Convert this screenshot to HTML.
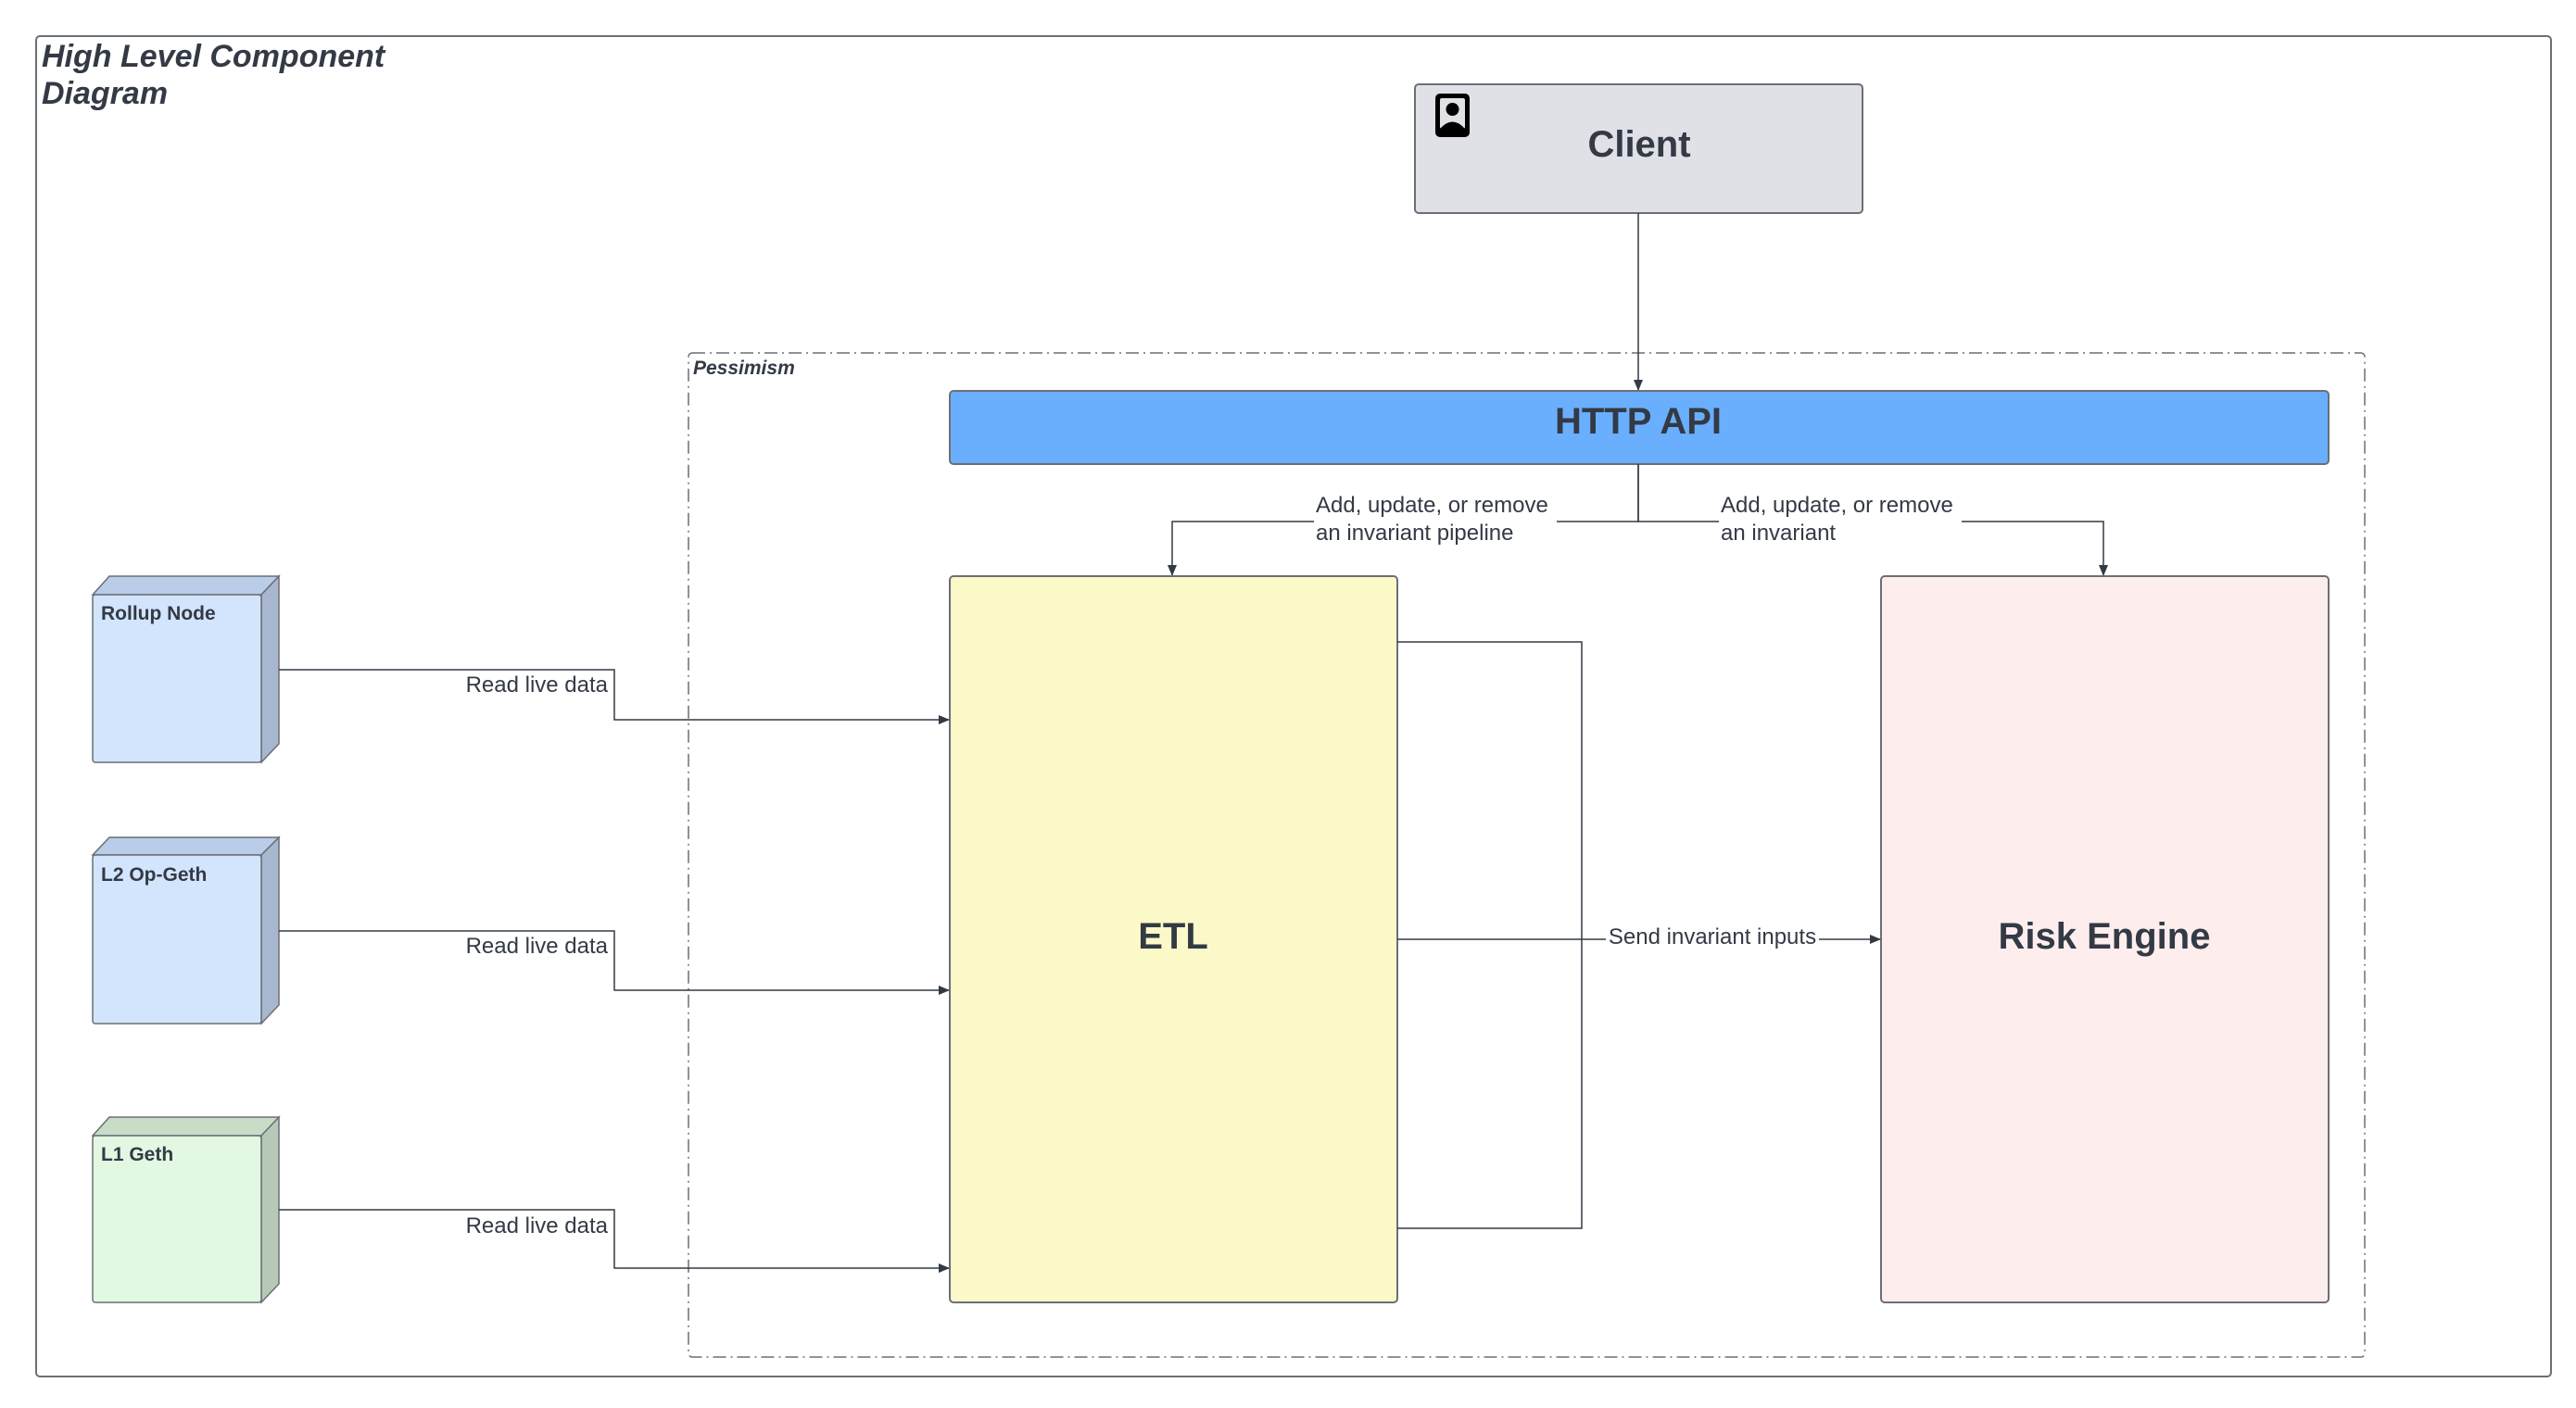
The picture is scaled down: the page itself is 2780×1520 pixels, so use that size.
<!DOCTYPE html>
<html><head><meta charset="utf-8"><style>
html,body{margin:0;padding:0;background:#fff;}
svg{display:block;}
text{font-family:"Liberation Sans",sans-serif;fill:#333a45;}
</style></head><body>
<svg width="2780" height="1520" viewBox="0 0 2780 1520" xmlns="http://www.w3.org/2000/svg">
<defs>
<marker id="ah" markerWidth="12" markerHeight="10" refX="11" refY="5" orient="auto" markerUnits="userSpaceOnUse">
<path d="M0,0 L12,5 L0,10 Z" fill="#333a45"/>
</marker>
</defs>
<rect x="39" y="39" width="2714" height="1447" rx="4" fill="#fff" stroke="#6b6f76" stroke-width="2"/>
<text x="45" y="72" font-size="34" font-weight="bold" font-style="italic">High Level Component</text>
<text x="45" y="112" font-size="34" font-weight="bold" font-style="italic">Diagram</text>

<rect x="743" y="381" width="1809" height="1084" rx="4" fill="none" stroke="#6b6f76" stroke-width="1.5" stroke-dasharray="14,5,2,5"/>
<text x="748" y="404" font-size="21" font-weight="bold" font-style="italic">Pessimism</text>

<rect x="1527" y="91" width="483" height="139" rx="4" fill="#dfe1e6" stroke="#6b6f76" stroke-width="2"/>
<rect x="1549" y="101" width="37" height="47" rx="5" fill="#000"/>
<rect x="1554" y="106" width="27" height="33" rx="2" fill="#dfe1e6"/>
<circle cx="1567.5" cy="118" r="7" fill="#000"/>
<path d="M1554,139 Q1567.5,124 1581,139 Z" fill="#000"/>
<text x="1769" y="169" font-size="40" font-weight="bold" text-anchor="middle">Client</text>

<rect x="1025" y="422" width="1488" height="79" rx="4" fill="#6aaffd" stroke="#6b6f76" stroke-width="2"/>
<text x="1768" y="468" font-size="40" font-weight="bold" text-anchor="middle">HTTP API</text>
<line x1="1768" y1="230" x2="1768" y2="421" stroke="#333a45" stroke-width="1.5" marker-end="url(#ah)"/>

<path d="M1768,501 V563 H1265 V621" fill="none" stroke="#333a45" stroke-width="1.5" marker-end="url(#ah)"/>
<path d="M1768,501 V563 H2270 V621" fill="none" stroke="#333a45" stroke-width="1.5" marker-end="url(#ah)"/>
<rect x="1418" y="528" width="262" height="62" fill="#fff"/>
<text x="1420" y="553" font-size="24">Add, update, or remove</text>
<text x="1420" y="583" font-size="24">an invariant pipeline</text>
<rect x="1855" y="528" width="262" height="62" fill="#fff"/>
<text x="1857" y="553" font-size="24">Add, update, or remove</text>
<text x="1857" y="583" font-size="24">an invariant</text>

<rect x="1025" y="622" width="483" height="784" rx="4" fill="#fcf9c8" stroke="#6b6f76" stroke-width="2"/>
<text x="1266" y="1024" font-size="40" font-weight="bold" text-anchor="middle">ETL</text>
<rect x="2030" y="622" width="483" height="784" rx="4" fill="#fdeeed" stroke="#6b6f76" stroke-width="2"/>
<text x="2271" y="1024" font-size="40" font-weight="bold" text-anchor="middle">Risk Engine</text>

<path d="M1508,693 H1707 V1326 H1508" fill="none" stroke="#333a45" stroke-width="1.5"/>
<line x1="1508" y1="1014" x2="2029" y2="1014" stroke="#333a45" stroke-width="1.5" marker-end="url(#ah)"/>
<rect x="1733" y="996" width="230" height="30" fill="#fff"/>
<text x="1848" y="1019" font-size="24" text-anchor="middle">Send invariant inputs</text>

<g stroke="#6b6f76" stroke-width="1.5">
 <path d="M100,642 L118,622 H301 L282,642 Z" fill="#b9cde8"/>
 <path d="M282,642 L301,622 V803 L282,823 Z" fill="#a8b6cf"/>
 <rect x="100" y="642" width="182" height="181" rx="3" fill="#d3e5fd"/>
 <path d="M100,923 L118,904 H301 L282,923 Z" fill="#b9cde8"/>
 <path d="M282,923 L301,904 V1085 L282,1105 Z" fill="#a8b6cf"/>
 <rect x="100" y="923" width="182" height="182" rx="3" fill="#d3e5fd"/>
 <path d="M100,1226 L118,1206 H301 L282,1226 Z" fill="#c7ddc7"/>
 <path d="M282,1226 L301,1206 V1386 L282,1406 Z" fill="#b6c9b6"/>
 <rect x="100" y="1226" width="182" height="180" rx="3" fill="#e2f8e2"/>
</g>
<text x="109" y="669" font-size="21" font-weight="bold">Rollup Node</text>
<text x="109" y="951" font-size="21" font-weight="bold">L2 Op-Geth</text>
<text x="109" y="1253" font-size="21" font-weight="bold">L1 Geth</text>

<path d="M301,723 H663 V777 H1024" fill="none" stroke="#333a45" stroke-width="1.5" marker-end="url(#ah)"/>
<path d="M301,1005 H663 V1069 H1024" fill="none" stroke="#333a45" stroke-width="1.5" marker-end="url(#ah)"/>
<path d="M301,1306 H663 V1369 H1024" fill="none" stroke="#333a45" stroke-width="1.5" marker-end="url(#ah)"/>
<text x="656" y="747" font-size="24" text-anchor="end">Read live data</text>
<text x="656" y="1029" font-size="24" text-anchor="end">Read live data</text>
<text x="656" y="1331" font-size="24" text-anchor="end">Read live data</text>
</svg>
</body></html>
